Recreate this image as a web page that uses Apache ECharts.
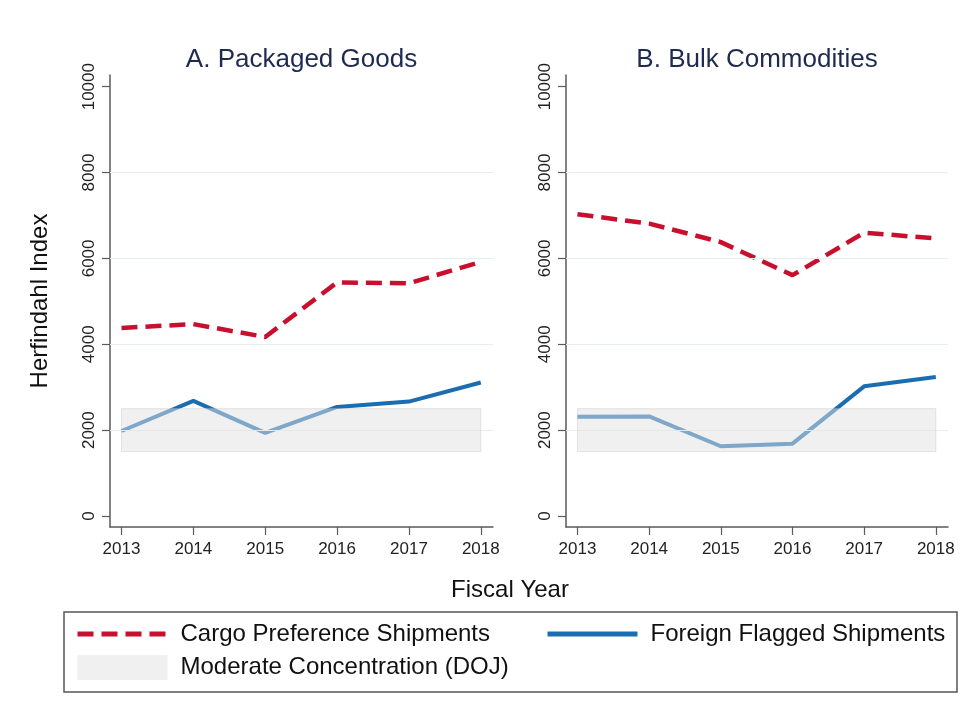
<!DOCTYPE html>
<html>
<head>
<meta charset="utf-8">
<script src="https://cdn.jsdelivr.net/npm/echarts@6/dist/echarts.min.js"></script>
<style>
html,body{margin:0;padding:0;background:#fff;}
#chart{width:971px;height:707px;}
</style>
</head>
<body>
<div id="chart"></div>
<script>
const years = [2013, 2014, 2015, 2016, 2017, 2018];
const packagedCargo = [4380, 4470, 4170, 5440, 5420, 5920];
const packagedForeign = [1980, 2680, 1935, 2540, 2665, 3110];
const bulkCargo = [7030, 6810, 6380, 5610, 6600, 6465];
const bulkForeign = [2310, 2320, 1625, 1685, 3020, 3240];
const yTicks = [0, 2000, 4000, 6000, 8000, 10000];
const gridLines = [2000, 4000, 6000, 8000];
const bandRange = [1500, 2500];
const panelTitles = ['A. Packaged Goods', 'B. Bulk Commodities'];
const names = {
  cargo: 'Cargo Preference Shipments',
  foreign: 'Foreign Flagged Shipments',
  band: 'Moderate Concentration (DOJ)'
};

const FONT = '"Liberation Sans", Arial, sans-serif';
const RED = '#c8102e';
const BLUE = '#1a6db0';
const BANDFILL = 'rgba(226,226,226,0.5)';
const DASH = [16, 8];

const pair = (xs, ys) => xs.map((x, i) => [x, ys[i]]);

function xAxisDef(idx) {
  return {
    type: 'value', gridIndex: idx, min: 2012.84, max: 2018.17,
    axisLine: { show: true, onZero: false, lineStyle: { color: '#5a5a5a', width: 1.5 } },
    axisTick: { show: true, length: 8, customValues: years, lineStyle: { color: '#5a5a5a', width: 1.2 } },
    axisLabel: { customValues: years, formatter: v => String(v), fontSize: 17, fontFamily: FONT, color: '#222', margin: 14 },
    splitLine: { show: false }
  };
}
function yAxisDef(idx) {
  return {
    type: 'value', gridIndex: idx, min: -256, max: 10272,
    axisLine: { show: true, onZero: false, lineStyle: { color: '#5a5a5a', width: 1.5 } },
    axisTick: { show: true, length: 8, customValues: yTicks, lineStyle: { color: '#5a5a5a', width: 1.2 } },
    axisLabel: { customValues: yTicks, formatter: v => String(v), rotate: 90, fontSize: 17, fontFamily: FONT, color: '#222', margin: 12 },
    splitLine: { show: false }
  };
}

function bandSeries(idx) {
  return {
    type: 'custom', name: names.band, xAxisIndex: idx, yAxisIndex: idx, z: 5,
    itemStyle: { color: BANDFILL },
    data: [[years[0], bandRange[0], years[years.length - 1], bandRange[1]]],
    renderItem: function (params, api) {
      const p0 = api.coord([api.value(0), api.value(3)]);
      const p1 = api.coord([api.value(2), api.value(1)]);
      return {
        type: 'rect',
        shape: { x: p0[0], y: p0[1], width: p1[0] - p0[0], height: p1[1] - p0[1] },
        style: { fill: BANDFILL, stroke: 'rgba(200,200,200,0.45)', lineWidth: 1 }
      };
    }
  };
}

function cargoSeries(idx, data) {
  return {
    type: 'line', name: names.cargo, xAxisIndex: idx, yAxisIndex: idx, z: 3,
    data: pair(years, data), symbol: 'none',
    lineStyle: { color: RED, width: 4.5, type: DASH },
    itemStyle: { color: RED },
    markLine: {
      silent: true, symbol: 'none', label: { show: false },
      lineStyle: { color: '#e6eeee', width: 1, type: 'solid' },
      data: gridLines.map(v => ({ yAxis: v }))
    }
  };
}
function foreignSeries(idx, data) {
  return {
    type: 'line', name: names.foreign, xAxisIndex: idx, yAxisIndex: idx, z: 3,
    data: pair(years, data), symbol: 'none',
    lineStyle: { color: BLUE, width: 4 },
    itemStyle: { color: BLUE }
  };
}

const hiddenSymbol = { color: 'transparent', borderColor: 'transparent', borderWidth: 0 };

const chart = echarts.init(document.getElementById('chart'));
chart.setOption({
  animation: false,
  backgroundColor: '#fff',
  grid: [
    { left: 110, right: 478, top: 75, bottom: 180 },
    { left: 566, right: 23, top: 75, bottom: 180 }
  ],
  xAxis: [xAxisDef(0), xAxisDef(1)],
  yAxis: [yAxisDef(0), yAxisDef(1)],
  legend: [
    {
      orient: 'vertical', left: 75, top: 622, padding: 0,
      itemWidth: 90, itemHeight: 25, itemGap: 9,
      textStyle: { fontSize: 24, fontFamily: FONT, color: '#111', padding: [0, 0, 0, 8] },
      data: [
        { name: names.cargo, itemStyle: hiddenSymbol, lineStyle: { color: RED, width: 5, type: DASH } },
        { name: names.band, icon: 'rect', itemStyle: { color: BANDFILL } }
      ]
    },
    {
      orient: 'vertical', left: 545, top: 622, padding: 0,
      itemWidth: 90, itemHeight: 25,
      textStyle: { fontSize: 24, fontFamily: FONT, color: '#111', padding: [0, 0, 0, 8] },
      data: [
        { name: names.foreign, itemStyle: hiddenSymbol, lineStyle: { color: BLUE, width: 5, type: 'solid' } }
      ]
    }
  ],
  graphic: [
    { type: 'text', x: 301.5, y: 60, style: { text: panelTitles[0], fontSize: 26, fontFamily: FONT, fill: '#1e2a50', align: 'center', verticalAlign: 'middle' } },
    { type: 'text', x: 757, y: 60, style: { text: panelTitles[1], fontSize: 26, fontFamily: FONT, fill: '#1e2a50', align: 'center', verticalAlign: 'middle' } },
    { type: 'text', x: 40, y: 301, rotation: Math.PI / 2, style: { text: 'Herfindahl Index', fontSize: 24, fontFamily: FONT, fill: '#111', align: 'center', verticalAlign: 'middle' } },
    { type: 'text', x: 510, y: 590, style: { text: 'Fiscal Year', fontSize: 24, fontFamily: FONT, fill: '#111', align: 'center', verticalAlign: 'middle' } },
    { type: 'rect', shape: { x: 64, y: 612, width: 893, height: 80 }, style: { fill: 'none', stroke: '#555', lineWidth: 1.5 } }
  ],
  series: [
    cargoSeries(0, packagedCargo),
    foreignSeries(0, packagedForeign),
    bandSeries(0),
    cargoSeries(1, bulkCargo),
    foreignSeries(1, bulkForeign),
    bandSeries(1)
  ]
});
</script>
</body>
</html>
